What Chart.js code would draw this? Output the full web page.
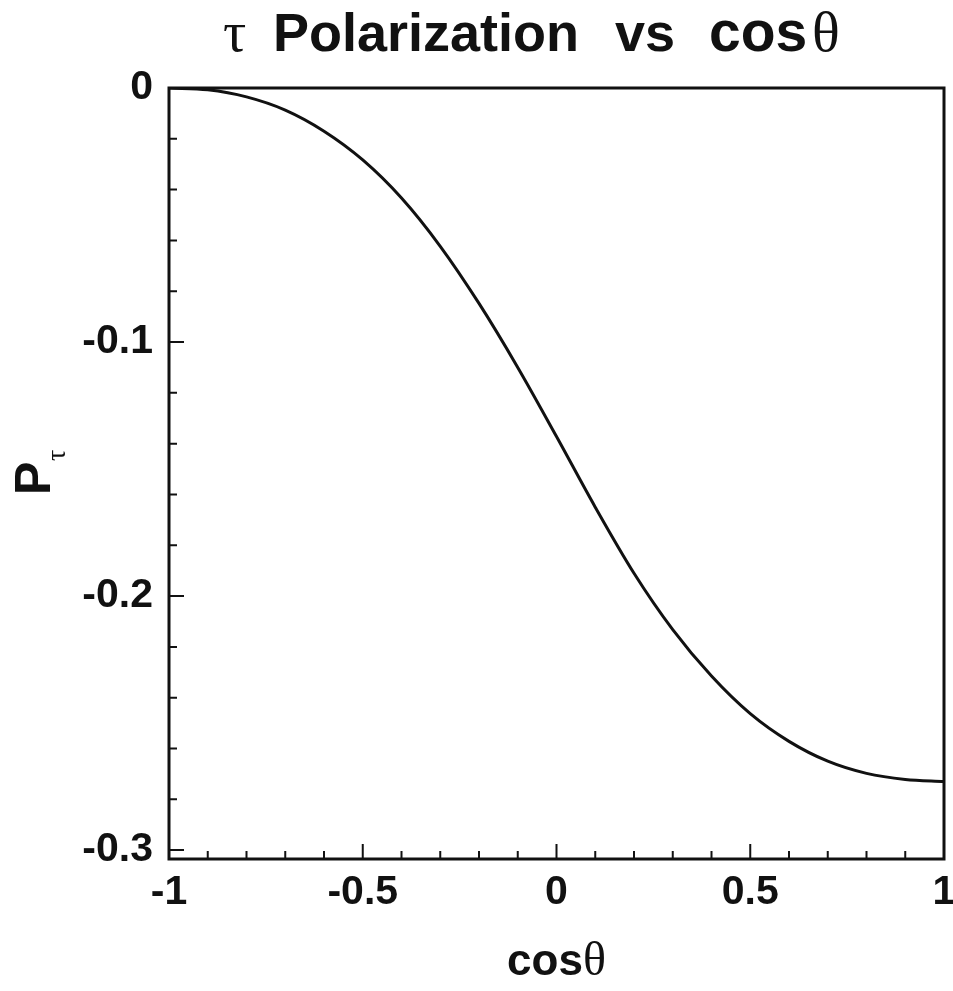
<!DOCTYPE html>
<html>
<head>
<meta charset="utf-8">
<script src="https://cdn.jsdelivr.net/npm/chart.js@4.4.0/dist/chart.umd.min.js"></script>
<style>
	html, body { margin: 0; padding: 0; background: #fff; }
	#wrap { width: 953px; height: 991px; }
</style>
</head>
<body>
<div id="wrap"><canvas id="chart-polarization"></canvas></div>
<script>
// Chart data
const COS_THETA = [-1, -0.9, -0.8, -0.7, -0.6, -0.5, -0.4, -0.3, -0.2, -0.1, 0, 0.1, 0.2, 0.3, 0.4, 0.5, 0.6, 0.7, 0.8, 0.9, 1];
const P_TAU = [0, -0.0007, -0.0035, -0.0087, -0.0170, -0.0283, -0.0433, -0.0623, -0.0848, -0.1100, -0.1372, -0.1650, -0.1910, -0.2132, -0.2315, -0.2463, -0.2572, -0.2650, -0.2698, -0.2722, -0.2730];

// Axis ticks
const X_LABELS = [-1, -0.5, 0, 0.5, 1];
const Y_LABELS = [0, -0.1, -0.2, -0.3];
const X_MAJOR = [-0.5, 0, 0.5];
const X_MINOR = [-0.9, -0.8, -0.7, -0.6, -0.4, -0.3, -0.2, -0.1, 0.1, 0.2, 0.3, 0.4, 0.6, 0.7, 0.8, 0.9];
const Y_MAJOR = [-0.1, -0.2, -0.3];
const Y_MINOR = [-0.02, -0.04, -0.06, -0.08, -0.12, -0.14, -0.16, -0.18, -0.22, -0.24, -0.26, -0.28];

const INK = "#111";
const SANS = '"Liberation Sans", Arial, Helvetica, sans-serif';
const SERIF = '"Liberation Serif", "DejaVu Serif", serif';

// Frame, inward ticks and mixed-font titles
const framePlugin = {
	id: "frame",
	afterDraw(chart) {
		const { ctx, chartArea: a, scales } = chart;
		const x = scales.x, y = scales.y;
		ctx.save();
		ctx.strokeStyle = INK;
		ctx.lineCap = "butt";

		// ticks
		ctx.lineWidth = 2;
		ctx.beginPath();
		X_MAJOR.forEach((v) => { const px = x.getPixelForValue(v); ctx.moveTo(px, a.bottom); ctx.lineTo(px, a.bottom - 15); });
		X_MINOR.forEach((v) => { const px = x.getPixelForValue(v); ctx.moveTo(px, a.bottom); ctx.lineTo(px, a.bottom - 8); });
		Y_MAJOR.forEach((v) => { const py = y.getPixelForValue(v); ctx.moveTo(a.left, py); ctx.lineTo(a.left + 15, py); });
		Y_MINOR.forEach((v) => { const py = y.getPixelForValue(v); ctx.moveTo(a.left, py); ctx.lineTo(a.left + 8, py); });
		ctx.stroke();

		// frame
		ctx.lineWidth = 3;
		ctx.strokeRect(a.left, a.top, a.right - a.left, a.bottom - a.top);

		ctx.fillStyle = INK;
		ctx.textBaseline = "alphabetic";
		ctx.textAlign = "left";

		// title
		const parts = [
			["τ", "58px " + SERIF, 223],
			["Polarization", "bold 54px " + SANS, 273],
			["vs", "bold 54px " + SANS, 615],
			["cos", "bold 57px " + SANS, 709],
			["θ", "58px " + SERIF, 812],
		];
		parts.forEach(([t, f, px]) => {
			ctx.font = f;
			ctx.fillText(t, px, 51);
		});

		// x title
		ctx.font = "bold 44px " + SANS;
		const wCos = ctx.measureText("cos").width;
		ctx.font = "48px " + SERIF;
		const wTh = ctx.measureText("θ").width;
		let cx = (a.left + a.right) / 2 - (wCos + wTh) / 2;
		ctx.font = "bold 44px " + SANS;
		ctx.fillText("cos", cx, 975);
		ctx.font = "48px " + SERIF;
		ctx.fillText("θ", cx + wCos, 975);

		// y title
		ctx.translate(50, 0);
		ctx.rotate(-Math.PI / 2);
		ctx.font = "bold 50px " + SANS;
		ctx.fillText("P", -495, 0);
		ctx.font = "28px " + SERIF;
		ctx.fillText("τ", -461, 15);
		ctx.restore();
	},
};

const CHART_CONFIG = {
	type: "line",
	data: {
		datasets: [
			{
				label: "P_tau",
				data: COS_THETA.map((c, i) => ({ x: c, y: P_TAU[i] })),
				borderColor: INK,
				borderWidth: 3,
				pointRadius: 0,
				fill: false,
				cubicInterpolationMode: "monotone",
			},
		],
	},
	options: {
		responsive: true,
		maintainAspectRatio: false,
		animation: false,
		layout: {
			padding: { left: 0, right: 9, top: 88, bottom: 0 },
		},
		scales: {
			x: {
				type: "linear",
				min: -1,
				max: 1,
				border: { display: false },
				grid: { display: false, drawTicks: false },
				afterBuildTicks: (s) => { s.ticks = X_LABELS.map((v) => ({ value: v })); },
				afterFit: (s) => { s.height = 132; s.paddingLeft = 0; s.paddingRight = 0; },
				ticks: {
					color: INK,
					padding: 9,
					maxRotation: 0,
					autoSkip: false,
					font: { family: SANS, size: 41, weight: "bold" },
					callback: (v) => String(v),
				},
			},
			y: {
				type: "linear",
				min: -0.3035,
				max: 0,
				border: { display: false },
				grid: { display: false, drawTicks: false },
				afterBuildTicks: (s) => { s.ticks = Y_LABELS.map((v) => ({ value: v })); },
				afterFit: (s) => { s.width = 169; s.paddingTop = 0; s.paddingBottom = 0; },
				ticks: {
					color: INK,
					padding: 16,
					autoSkip: false,
					font: { family: SANS, size: 41, weight: "bold" },
					callback: (v) => String(v),
				},
			},
		},
		plugins: {
			legend: { display: false },
			tooltip: { enabled: false },
		},
	},
	plugins: [framePlugin],
};

new Chart(document.getElementById("chart-polarization"), CHART_CONFIG);
</script>
</body>
</html>
